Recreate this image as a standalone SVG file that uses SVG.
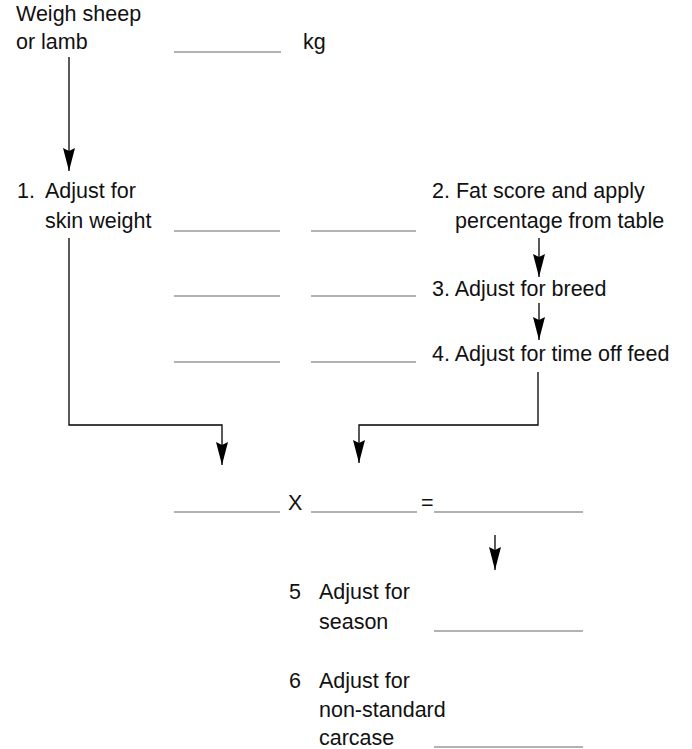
<svg xmlns="http://www.w3.org/2000/svg" width="692" height="749" viewBox="0 0 692 749">
<style>
text{font-family:"Liberation Sans",Arial,sans-serif;font-size:21.5px;fill:#111}
.blank{stroke:#666;stroke-width:1.2;fill:none}
.conn{stroke:#000;stroke-width:1.3;fill:none}
</style>
<defs>
<marker id="ah" viewBox="0 0 23 12" refX="23" refY="6" markerWidth="23" markerHeight="12" markerUnits="userSpaceOnUse" orient="auto">
<path d="M0,0 L23,6 L0,12 L3,6 z" fill="#000"/>
</marker>
</defs>
<rect width="692" height="749" fill="#fff"/>
<g id="connectors">
<path class="conn" d="M69,57 V171" marker-end="url(#ah)"/>
<path class="conn" d="M69,238 V425 H222 V465" marker-end="url(#ah)"/>
<path class="conn" d="M538,372 V425 H359 V463" marker-end="url(#ah)"/>
<path class="conn" d="M539,238 V277" marker-end="url(#ah)"/>
<path class="conn" d="M539,303 V340" marker-end="url(#ah)"/>
<path class="conn" d="M495,535 V570" marker-end="url(#ah)"/>
</g>
<g id="weigh">
<text x="16" y="21">Weigh sheep</text>
<text x="16" y="49">or lamb</text>
<line class="blank" x1="174" y1="52" x2="281" y2="52"/>
<text x="303" y="49">kg</text>
</g>
<g id="step1">
<text x="17" y="198">1.</text>
<text x="45" y="198">Adjust for</text>
<text x="45" y="228">skin weight</text>
<line class="blank" x1="174" y1="231" x2="280" y2="231"/>
<line class="blank" x1="311" y1="231" x2="416" y2="231"/>
</g>
<g id="step2">
<text x="432" y="198">2. Fat score and apply</text>
<text x="455" y="228">percentage from table</text>
</g>
<g id="step3">
<line class="blank" x1="174" y1="296" x2="280" y2="296"/>
<line class="blank" x1="311" y1="296" x2="416" y2="296"/>
<text x="432" y="296">3. Adjust for breed</text>
</g>
<g id="step4">
<line class="blank" x1="174" y1="362" x2="280" y2="362"/>
<line class="blank" x1="311" y1="362" x2="416" y2="362"/>
<text x="432" y="361">4. Adjust for time off feed</text>
</g>
<g id="equation">
<line class="blank" x1="174" y1="512" x2="280" y2="512"/>
<text x="288" y="510">X</text>
<line class="blank" x1="311" y1="512" x2="417" y2="512"/>
<text x="421" y="510">=</text>
<line class="blank" x1="434" y1="512" x2="583" y2="512"/>
</g>
<g id="step5">
<text x="289" y="599">5</text>
<text x="319" y="599">Adjust for</text>
<text x="319" y="629">season</text>
<line class="blank" x1="434" y1="631" x2="583" y2="631"/>
</g>
<g id="step6">
<text x="289" y="688">6</text>
<text x="319" y="688">Adjust for</text>
<text x="319" y="717">non-standard</text>
<text x="319" y="745">carcase</text>
<line class="blank" x1="434" y1="747" x2="583" y2="747"/>
</g>
</svg>
